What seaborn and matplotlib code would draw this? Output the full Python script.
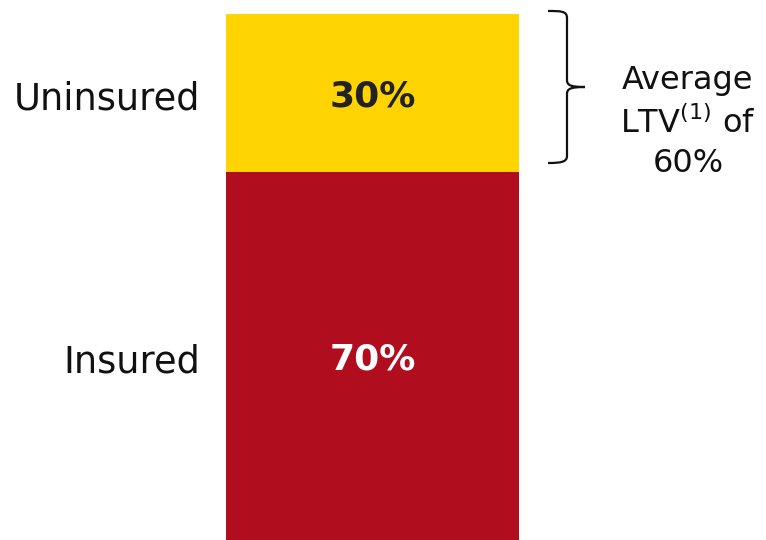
import matplotlib
matplotlib.use("Agg")
import matplotlib.pyplot as plt
import seaborn as sns
import pandas as pd
from matplotlib.path import Path
from matplotlib.patches import PathPatch
from matplotlib.transforms import Affine2D, offset_copy

categories = ["Insured", "Uninsured"]
values = [70, 30]
colors = ["#B00D1E", "#FFD400"]
label_colors = ["white", "#222222"]
note_lines = ["Average", "LTV$^{\\mathregular{(1)}}$ of", "60%"]

sns.set_theme(style="white")
plt.rcParams['font.family'] = ['DejaVu Sans']

W, H = 766, 540
fig = plt.figure(figsize=(W / 100, H / 100), dpi=100)
ax = fig.add_axes([226 / W, 0, 293 / W, 526 / H])

df = pd.DataFrame({"x": ["all"], "total": [sum(values)], "bottom": [values[0]]})
sns.barplot(data=df, x="x", y="total", color=colors[1], width=1.0, ax=ax,
            saturation=1, linewidth=0)
sns.barplot(data=df, x="x", y="bottom", color=colors[0], width=1.0, ax=ax,
            saturation=1, linewidth=0)
ax.set_xlim(-0.5, 0.5)
ax.set_ylim(0, 100)
ax.axis("off")

# pixel transform (origin top-left)
pix = Affine2D().scale(1 / W, -1 / H).translate(0, 1) + fig.transFigure

# value labels: baseline ~13 px below segment middle
val_tr = offset_copy(ax.transData, fig=fig, x=0, y=-14, units="dots")
cat_tr = offset_copy(ax.transData, fig=fig, x=-26, y=-17, units="dots")
cum = 0
for cat, v, lc in zip(categories, values, label_colors):
    mid = cum + v / 2
    ax.text(0, mid, f"{v}%", ha="center", va="baseline", fontsize=26,
            fontweight="bold", color=lc, transform=val_tr)
    ax.text(-0.5, mid, cat, ha="right", va="baseline", fontsize=26.5,
            color="#111111", transform=cat_tr, clip_on=False)
    cum += v

# curly bracket
verts = [(548, 11), (561, 11), (567, 11), (567, 18),
         (567, 80),
         (567, 85), (570, 87), (585, 87),
         (570, 87), (567, 89), (567, 94),
         (567, 156),
         (567, 162), (561, 163), (548, 163)]
codes = [Path.MOVETO, Path.CURVE4, Path.CURVE4, Path.CURVE4,
         Path.LINETO,
         Path.CURVE4, Path.CURVE4, Path.CURVE4,
         Path.CURVE4, Path.CURVE4, Path.CURVE4,
         Path.LINETO,
         Path.CURVE4, Path.CURVE4, Path.CURVE4]
patch = PathPatch(Path(verts, codes), fill=False, lw=1.6, edgecolor="#111111",
                  transform=pix)
fig.add_artist(patch)

baselines = [89, 133, 172]
for line, b in zip(note_lines, baselines):
    fig.text(688 / W, 1 - b / H, line, ha="center", va="baseline",
             fontsize=23, color="#111111")

fig.savefig("out.png", dpi=100)
